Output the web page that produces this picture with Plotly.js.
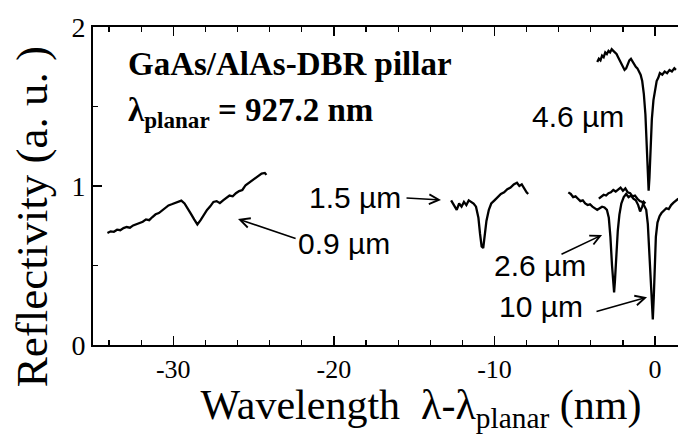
<!DOCTYPE html>
<html>
<head>
<meta charset="utf-8">
<script src="https://cdn.plot.ly/plotly-3.0.1.min.js"></script>
<style>
  html, body { margin: 0; padding: 0; background: #fff; overflow: hidden; width: 678px; height: 434px; }
  #chart { width: 749px; height: 434px; }
</style>
</head>
<body>
<div id="chart"></div>
<script>
// ---- data (wavelength offset in nm, reflectivity a.u.) ----
const x09 = [-34.1,-33.9,-33.7,-33.5,-33.3,-33.1,-32.9,-32.7,-32.5,-32.3,-32.1,-31.9,-31.7,-31.5,-31.3,-31.1,-30.9,-30.7,-30.5,-30.3,-30.1,-29.9,-29.7,-29.5,-29.3,-29.1,-28.9,-28.7,-28.5,-28.3,-28.1,-27.9,-27.7,-27.5,-27.3,-27.1,-26.9,-26.7,-26.5,-26.3,-26.1,-25.9,-25.7,-25.5,-25.3,-25.1,-24.9,-24.7,-24.5,-24.3,-24.2];
const y09 = [0.705,0.715,0.712,0.725,0.722,0.735,0.742,0.738,0.752,0.760,0.768,0.775,0.790,0.785,0.805,0.822,0.830,0.845,0.862,0.878,0.885,0.892,0.900,0.908,0.890,0.860,0.825,0.790,0.758,0.785,0.822,0.850,0.872,0.900,0.905,0.892,0.910,0.925,0.940,0.935,0.955,0.968,0.975,1.005,1.020,1.038,1.052,1.065,1.078,1.082,1.070];

const x15 = [-12.7,-12.5,-12.35,-12.2,-12.05,-11.9,-11.75,-11.6,-11.45,-11.3,-11.15,-11.0,-10.9,-10.8,-10.7,-10.6,-10.5,-10.35,-10.2,-10.0,-9.8,-9.6,-9.4,-9.2,-9.0,-8.8,-8.6,-8.45,-8.3,-8.15,-8.0,-7.9];
const y15 = [0.91,0.88,0.85,0.89,0.87,0.90,0.88,0.91,0.90,0.89,0.87,0.80,0.70,0.62,0.61,0.68,0.78,0.85,0.89,0.91,0.93,0.95,0.96,0.98,0.99,1.01,1.02,1.00,1.01,0.98,0.96,0.95];

const x26 = [-5.4,-5.25,-5.1,-4.95,-4.8,-4.65,-4.5,-4.35,-4.2,-4.05,-3.9,-3.75,-3.6,-3.45,-3.3,-3.15,-3.0,-2.88,-2.78,-2.68,-2.6,-2.55,-2.5,-2.42,-2.32,-2.22,-2.1,-1.95,-1.8,-1.65,-1.5,-1.35,-1.2,-1.05,-0.93,-0.8,-0.7,-0.6];
const y26 = [0.96,0.95,0.93,0.935,0.92,0.905,0.91,0.89,0.88,0.885,0.87,0.86,0.85,0.86,0.87,0.865,0.85,0.80,0.68,0.50,0.36,0.33,0.40,0.58,0.72,0.82,0.89,0.93,0.95,0.93,0.94,0.92,0.91,0.88,0.84,0.87,0.90,0.89];

const x10 = [-3.5,-3.35,-3.2,-3.05,-2.9,-2.75,-2.6,-2.45,-2.3,-2.15,-2.0,-1.85,-1.7,-1.55,-1.4,-1.25,-1.1,-0.95,-0.8,-0.68,-0.55,-0.45,-0.36,-0.28,-0.2,-0.14,-0.08,-0.02,0.05,0.15,0.28,0.4,0.55,0.7,0.85,1.0,1.15,1.3,1.45];
const y10 = [0.92,0.93,0.945,0.94,0.955,0.96,0.975,0.965,0.98,0.99,0.97,0.985,0.96,0.955,0.935,0.94,0.92,0.905,0.90,0.88,0.85,0.76,0.60,0.42,0.25,0.16,0.30,0.52,0.68,0.77,0.81,0.83,0.845,0.86,0.855,0.88,0.895,0.91,0.92];

const x46 = [-3.6,-3.5,-3.4,-3.3,-3.2,-3.1,-3.0,-2.9,-2.8,-2.7,-2.6,-2.5,-2.4,-2.3,-2.15,-2.0,-1.9,-1.8,-1.7,-1.6,-1.5,-1.4,-1.3,-1.2,-1.1,-1.0,-0.9,-0.8,-0.7,-0.6,-0.52,-0.45,-0.4,-0.35,-0.28,-0.2,-0.1,0.0,0.1,0.2,0.3,0.45,0.6,0.75,0.9,1.05,1.2,1.3];
const y46 = [1.78,1.80,1.79,1.82,1.81,1.84,1.83,1.85,1.84,1.86,1.85,1.84,1.83,1.81,1.78,1.76,1.73,1.74,1.77,1.79,1.80,1.78,1.77,1.75,1.74,1.72,1.70,1.66,1.58,1.45,1.28,1.10,0.97,1.05,1.25,1.42,1.54,1.61,1.66,1.68,1.71,1.70,1.72,1.71,1.73,1.72,1.74,1.73];

const seriesNames = ['0.9 µm','1.5 µm','2.6 µm','10 µm','4.6 µm'];
const xTickVals = [-30,-20,-10,0];
const xTickText = ['-30','-20','-10','0'];
const yTickVals = [0,1,2];
const yTickText = ['0','1','2'];

const serif = 'Liberation Serif, Times New Roman, serif';
const sans = 'Liberation Sans, Arial, sans-serif';

const line = {color: '#000', width: 2.3};
const traces = [
  {x: x09, y: y09, name: seriesNames[0]},
  {x: x15, y: y15, name: seriesNames[1]},
  {x: x26, y: y26, name: seriesNames[2]},
  {x: x10, y: y10, name: seriesNames[3]},
  {x: x46, y: y46, name: seriesNames[4]}
].map(t => Object.assign(t, {type: 'scatter', mode: 'lines', line: line, hoverinfo: 'skip'}));

const lab = (text, x, y, xanchor) => ({
  text: text, x: x, y: y, xref: 'x', yref: 'y', xanchor: xanchor, yanchor: 'middle',
  showarrow: false, font: {family: sans, size: 30, color: '#000'}
});
const arrow = (tx, ty, hx, hy) => ({
  text: '', x: hx, y: hy, ax: tx, ay: ty, xref: 'x', yref: 'y', axref: 'x', ayref: 'y',
  showarrow: true, arrowhead: 5, arrowsize: 1.2, arrowwidth: 1.6, arrowcolor: '#000', standoff: 0, startstandoff: 0
});

const annotations = [
  {text: '<b>GaAs/AlAs-DBR pillar</b>', x: -32.95, y: 1.77, xref: 'x', yref: 'y', xanchor: 'left', yanchor: 'middle',
   showarrow: false, font: {family: serif, size: 33, color: '#000'}},
  {text: '<b>λ<sub>planar</sub> = 927.2 nm</b>', x: -32.95, y: 1.46, xref: 'x', yref: 'y', xanchor: 'left', yanchor: 'middle',
   showarrow: false, font: {family: serif, size: 33, color: '#000'}},
  lab('4.6 µm', -1.8, 1.44, 'right'),
  lab('1.5 µm', -15.7, 0.93, 'right'),
  lab('0.9 µm', -22.35, 0.64, 'left'),
  lab('2.6 µm', -10.15, 0.50, 'left'),
  lab('10 µm', -9.85, 0.245, 'left'),
  arrow(-15.57, 0.925, -13.33, 0.912),
  arrow(-22.29, 0.667, -25.97, 0.792),
  arrow(-5.92, 0.566, -3.30, 0.692),
  arrow(-3.74, 0.208, -0.50, 0.30),
  // y-axis title, placed where the reference shows it
  {text: 'Reflectivity (a. u. )', xref: 'paper', yref: 'paper', x: -0.093, y: 0.405,
   xanchor: 'center', yanchor: 'middle', textangle: -90, showarrow: false,
   font: {family: serif, size: 45, color: '#000'}}
];

const layout = {
  width: 749, height: 434,
  margin: {l: 93, r: 0, t: 27, b: 89, pad: 0},
  paper_bgcolor: '#fff', plot_bgcolor: '#fff',
  showlegend: false,
  xaxis: {
    range: [-35, 5.85], showgrid: false, zeroline: false,
    showline: true, linecolor: '#000', linewidth: 2, mirror: 'ticks',
    ticks: 'inside', ticklen: 9, tickwidth: 1.5, tickcolor: '#000',
    tickmode: 'array', tickvals: xTickVals, ticktext: xTickText,
    minor: {dtick: 2, tick0: 0, ticks: 'inside', ticklen: 5, tickwidth: 1.2, tickcolor: '#000', showgrid: false},
    tickfont: {family: serif, size: 26, color: '#000'},
    title: {text: 'Wavelength  λ-λ<sub>planar</sub> (nm)', font: {family: serif, size: 42, color: '#000'}, standoff: 10}
  },
  yaxis: {
    range: [0, 2], showgrid: false, zeroline: false,
    showline: true, linecolor: '#000', linewidth: 2, mirror: 'ticks',
    ticks: 'inside', ticklen: 9, tickwidth: 1.5, tickcolor: '#000',
    tickmode: 'array', tickvals: yTickVals, ticktext: yTickText,
    minor: {dtick: 0.5, tick0: 0, ticks: 'inside', ticklen: 5, tickwidth: 1.2, tickcolor: '#000', showgrid: false},
    tickfont: {family: serif, size: 28, color: '#000'}
  },
  annotations: annotations
};

Plotly.newPlot('chart', traces, layout, {displayModeBar: false, staticPlot: true});
</script>
</body>
</html>
